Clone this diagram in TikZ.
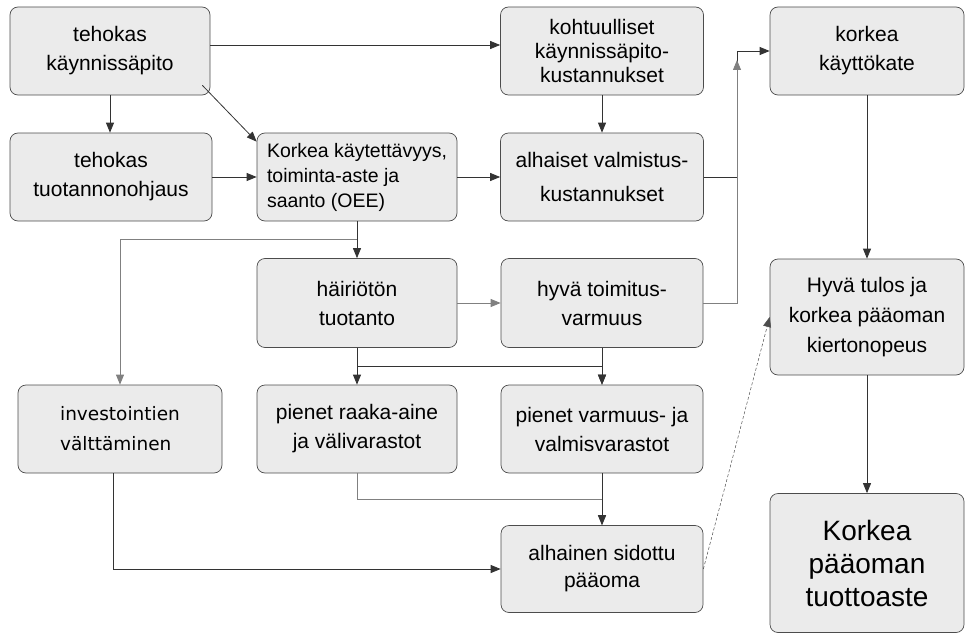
\documentclass[tikz,border=0pt]{standalone}
\usepackage{fontspec}
\setmainfont{Liberation Sans}
\newfontfamily\dejavusans{DejaVu Sans}
\usetikzlibrary{arrows.meta,calc,positioning}

\begin{document}
\begin{tikzpicture}[x=1pt,y=-1pt]
\tikzset{BOX/.style={draw=black!70,line width=0.7pt,rounded corners=8pt,fill=black!8,align=center,inner sep=0pt,minimum width=200pt,minimum height=88pt,font=\fontsize{21}{29}\selectfont}}
\tikzset{JOINS/.style={draw=black!80,line width=0.8pt}}
\tikzset{LEADS/.style={JOINS,-{Triangle[length=10pt,width=8pt]}}}
\tikzset{LEADS LIGHT/.style={LEADS,draw=black!50}}
\tikzset{HINTS/.style={LEADS,draw=black!70,line width=0.5pt,densely dashed}}

\useasboundingbox (0,0) rectangle (966,634);

\node[BOX] (upkeep) at (110,51) {tehokas\\käynnissäpito};
\node[BOX,minimum width=202pt] (control) at (111,177) {tehokas\\tuotannonohjaus};
\node[BOX,align=left,font=\fontsize{19.5}{25}\selectfont] (oee) at (357,177) {Korkea käytettävyys,\\toiminta-aste ja\\saanto (OEE)};
\node[BOX,minimum width=203pt,font=\fontsize{21}{24}\selectfont] (upkeep costs) at (602,51) {kohtuulliset\\käynnissäpito-\\kustannukset};
\node[BOX,minimum width=203pt,font=\fontsize{21}{34}\selectfont] (production costs) at (602,177) {alhaiset valmistus-\\kustannukset};
\node[BOX,minimum width=194pt] (margin) at (867,51) {korkea\\käyttökate};

\node[BOX,minimum height=89pt] (smooth) at (357,303) {häiriötön\\tuotanto};
\node[BOX,minimum width=202pt,minimum height=89pt] (delivery) at (602,303) {hyvä toimitus-\\varmuus};
\node[BOX,minimum width=194pt,minimum height=116pt,font=\fontsize{21}{30}\selectfont] (result) at (867,317) {Hyvä tulos ja\\korkea pääoman\\kiertonopeus};

\node[BOX,minimum width=204pt,align=left,font=\dejavusans\fontsize{18.5}{30}\selectfont] (investments) at (120,429) {investointien\\välttäminen};
\node[BOX] (raw stock) at (357,429) {pienet raaka-aine\\ja välivarastot};
\node[BOX,minimum width=202pt] (final stock) at (602,429) {pienet varmuus- ja\\valmisvarastot};
\node[BOX,minimum width=202pt,minimum height=87pt,font=\fontsize{21}{27}\selectfont] (capital) at (602,569) {alhainen sidottu\\pääoma};
\node[BOX,minimum width=194pt,minimum height=139pt,font=\fontsize{28}{33}\selectfont] (return) at (867,563) {Korkea\\pääoman\\tuottoaste};

\coordinate (bend) at (737,51);
\coordinate (rise) at (737,60);

\draw[LEADS] ([yshift=6pt]upkeep.east) -- ([yshift=6pt]upkeep costs.west);
\draw[LEADS] (upkeep.south) -- (upkeep.south |- control.north);
\draw[LEADS] ([shift={(-8pt,10pt)}]upkeep.south east) -- ([yshift=-9pt]oee.north west);
\draw[LEADS] (control) -- (oee);
\draw[LEADS] (oee) -- (production costs);
\draw[LEADS] (upkeep costs) -- (production costs);
\draw[LEADS] (production costs.east) -| (bend) -- (margin);
\draw[LEADS LIGHT] (delivery.east) -| (rise);
\draw[LEADS] (margin) -- (result);
\draw[LEADS] (result) -- (return);

\draw[LEADS LIGHT] (oee.south) -- ++(0,18) -| (investments.north);
\draw[LEADS] (oee) -- (smooth);
\draw[LEADS LIGHT] (smooth) -- (delivery);
\draw[LEADS] (smooth.south) -- ++(0,19) -| (final stock.north);
\draw[LEADS] (smooth) -- (raw stock);
\draw[LEADS] (delivery) -- (final stock);

\draw[LEADS LIGHT] (raw stock.south) -- ++(0,26) -| (capital.north);
\draw[LEADS] (final stock) -- (capital);
\draw[LEADS] ([xshift=-7pt]investments.south) |- (capital.west);
\draw[HINTS] (capital.east) -- (result.west);

\end{tikzpicture}
\end{document}
